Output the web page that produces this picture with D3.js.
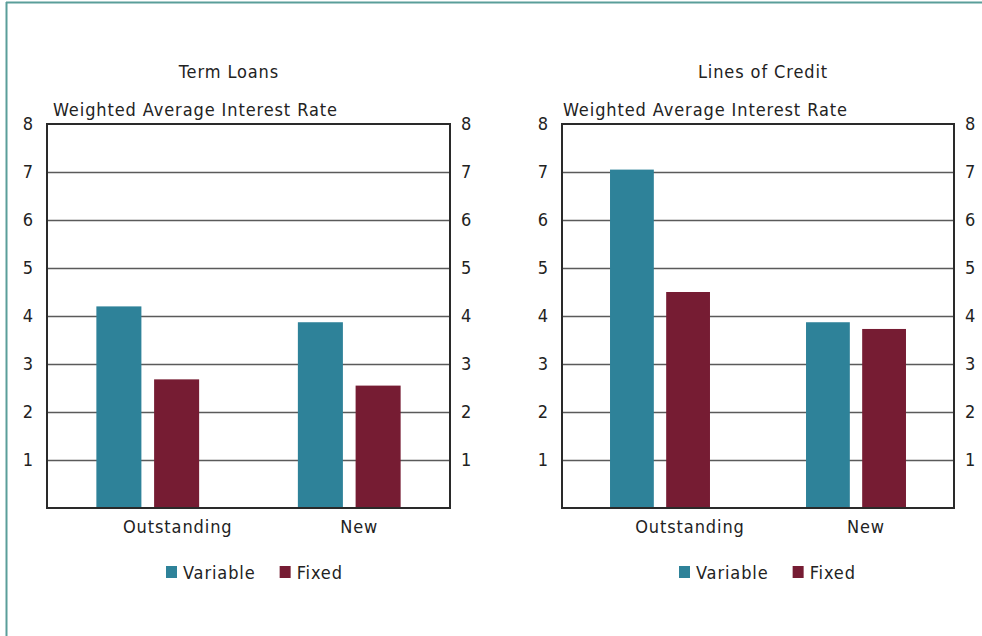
<!DOCTYPE html>
<html><head><meta charset="utf-8">
<script src="https://cdn.jsdelivr.net/npm/d3@7"></script>
<style>
html,body{margin:0;padding:0;background:#fff;}
text{font-family:"DejaVu Sans Condensed","DejaVu Sans",sans-serif;fill:#222;letter-spacing:0.9px;}
</style></head>
<body>
<svg id="c" width="982" height="636"></svg>
<script>
const categories = ["Outstanding", "New"];
const seriesNames = ["Variable", "Fixed"];
const termLoansVariable = [4.2, 3.87];
const termLoansFixed = [2.68, 2.55];
const creditVariable = [7.05, 3.87];
const creditFixed = [4.5, 3.73];
const yTicks = [1, 2, 3, 4, 5, 6, 7, 8];
const titles = ["Term Loans", "Lines of Credit"];
const yLabel = "Weighted Average Interest Rate";

const colors = {Variable: "#2e8299", Fixed: "#761c33"};
const svg = d3.select("#c");
const FS = 18;

// frame
svg.append("line").attr("x1", 6.5).attr("x2", 6.5).attr("y1", 2).attr("y2", 636).attr("stroke", "#5a9e9a").attr("stroke-width", 2);
svg.append("line").attr("x1", 6).attr("x2", 982).attr("y1", 2.5).attr("y2", 2.5).attr("stroke", "#5a9e9a").attr("stroke-width", 2);

const panels = [
  {title: titles[0], vals: [termLoansVariable, termLoansFixed], x0: 47, x1: 450, titleX: 229, subX: 53, legX: 166},
  {title: titles[1], vals: [creditVariable, creditFixed], x0: 562, x1: 954, titleX: 763, subX: 563, legX: 679}
];
const labelShift = {Outstanding: 30, New: 10};
const yTop = 124, yBot = 508;

panels.forEach(p => {
  const g = svg.append("g");
  const y = d3.scaleLinear().domain([0, 8]).range([yBot, yTop]);
  const x = d3.scaleBand().domain(categories).range([p.x0, p.x1]).padding(0);
  const bw = x.bandwidth();
  const xs = d3.scaleBand().domain(seriesNames).range([0, bw * 0.51]).paddingInner(0.22);
  const groupOff = (bw - bw * 0.51) / 2;

  // gridlines
  g.selectAll(".grid").data(yTicks.filter(d => d < 8)).join("line")
    .attr("x1", p.x0).attr("x2", p.x1)
    .attr("y1", d => Math.round(y(d)) + 0.5).attr("y2", d => Math.round(y(d)) + 0.5)
    .attr("stroke", "#5a5a5a").attr("stroke-width", 1.6);

  // bars
  seriesNames.forEach((s, si) => {
    g.selectAll(".bar" + si).data(categories).join("rect")
      .attr("x", c => x(c) + groupOff + xs(s))
      .attr("width", xs.bandwidth())
      .attr("y", (c, i) => y(p.vals[si][i]))
      .attr("height", (c, i) => yBot - y(p.vals[si][i]))
      .attr("fill", colors[s]);
  });

  // box
  g.append("rect").attr("x", p.x0).attr("y", yTop).attr("width", p.x1 - p.x0).attr("height", yBot - yTop)
    .attr("fill", "none").attr("stroke", "#2a2a2a").attr("stroke-width", 2);

  // axes labels
  const la = d3.axisLeft(y).tickValues(yTicks).tickSize(0).tickPadding(13);
  const ra = d3.axisRight(y).tickValues(yTicks).tickSize(0).tickPadding(11);
  const gl = g.append("g").attr("transform", `translate(${p.x0},0)`).call(la);
  const gr = g.append("g").attr("transform", `translate(${p.x1},0)`).call(ra);
  [gl, gr].forEach(a => {
    a.select(".domain").remove();
    a.selectAll("text").attr("font-size", FS).attr("fill", "#222")
      .attr("font-family", "DejaVu Sans Condensed, DejaVu Sans, sans-serif");
  });

  // category labels
  g.selectAll(".cat").data(categories).join("text")
    .attr("x", c => x(c) + bw / 2 + labelShift[c])
    .attr("y", 533).attr("text-anchor", "middle").attr("font-size", FS).text(c => c);

  // title & subtitle
  g.append("text").attr("x", p.titleX).attr("y", 78).attr("text-anchor", "middle").attr("font-size", FS).text(p.title);
  g.append("text").attr("x", p.subX).attr("y", 116).attr("font-size", FS).text(yLabel);

  // legend
  const lg = g.append("g").attr("transform", `translate(${p.legX},0)`);
  let lx = 0;
  seriesNames.forEach(s => {
    lg.append("rect").attr("x", lx).attr("y", 566).attr("width", 11).attr("height", 12).attr("fill", colors[s]);
    const t = lg.append("text").attr("x", lx + 17).attr("y", 579).attr("font-size", FS).text(s);
    lx += 17 + t.node().getComputedTextLength() + 24;
  });
});
</script>
</body></html>
